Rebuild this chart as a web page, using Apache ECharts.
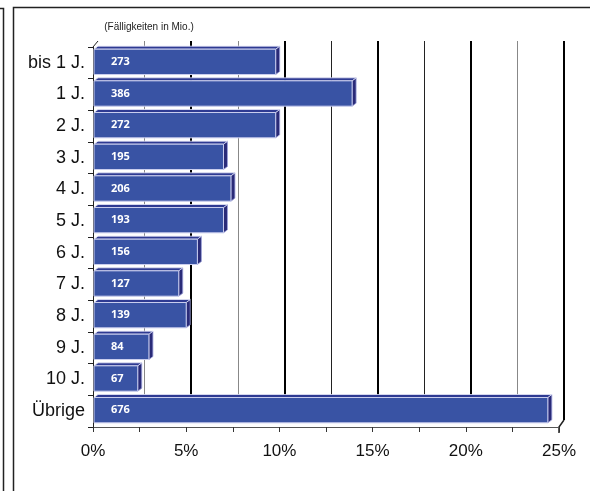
<!DOCTYPE html>
<html>
<head>
<meta charset="utf-8">
<script src="https://cdn.jsdelivr.net/npm/echarts@6/dist/echarts.min.js"></script>
<style>html,body{margin:0;padding:0;background:#fff;}#c{width:590px;height:491px;}</style>
</head>
<body>
<div id="c"></div>
<script>
const categories = ['bis 1 J.', '1 J.', '2 J.', '3 J.', '4 J.', '5 J.', '6 J.', '7 J.', '8 J.', '9 J.', '10 J.', 'Übrige'];
const amounts = [273, 386, 272, 195, 206, 193, 156, 127, 139, 84, 67, 676];
const shares = [9.8, 13.9, 9.8, 7.0, 7.4, 7.0, 5.6, 4.6, 5.0, 3.0, 2.4, 24.4];
const xTicks = [0, 5, 10, 15, 20, 25];
const title = '(Fälligkeiten in Mio.)';

const FONT = '"Liberation Sans", sans-serif';
const chart = echarts.init(document.getElementById('c'), null, {renderer: 'canvas'});

function renderBar(params, api) {
  const v = api.value(0), i = api.value(1), amt = api.value(2);
  const p0 = api.coord([0, i]);
  const p1 = api.coord([v, i]);
  const bh = api.size([0, 1])[1];
  const h = bh * 0.8;
  const y0 = p0[1] - h / 2 - 1;
  const x0 = p0[0] + 1;
  const x1 = p1[0];
  const dx = 4, dy = 3;
  return {
    type: 'group',
    children: [
      {type: 'polygon', shape: {points: [[x1, y0], [x1 + dx, y0 - dy], [x1 + dx, y0 + h - dy], [x1, y0 + h]]},
        style: {fill: '#2A2B78', stroke: '#9da2da', lineWidth: 0.8}},
      {type: 'polygon', shape: {points: [[x0, y0], [x0 + dx, y0 - dy], [x1 + dx, y0 - dy], [x1, y0]]},
        style: {fill: '#2E3A92', stroke: '#e4e6f7', lineWidth: 0.8}},
      {type: 'rect', shape: {x: x0, y: y0, width: x1 - x0, height: h},
        style: {fill: '#3953A4', stroke: '#c9cdee', lineWidth: 1}},
      {type: 'text', x: x0 + 17, y: y0 + h / 2,
        style: {text: String(amt), fill: '#ffffff', font: 'bold 11px "Open Sans", sans-serif', textVerticalAlign: 'middle', textAlign: 'left'}}
    ]
  };
}

const option = {
  animation: false,
  backgroundColor: '#ffffff',
  grid: [
    {left: 93, right: 31, top: 47, bottom: 64},
    {left: 98, right: 26, top: 41, bottom: 71}
  ],
  xAxis: [
    {gridIndex: 0, type: 'value', min: 0, max: 25, interval: 2.5,
      axisLine: {show: true, lineStyle: {color: '#555', width: 1}},
      axisTick: {show: true, length: 5, lineStyle: {color: '#333'}},
      splitLine: {show: false},
      axisLabel: {margin: 16, color: '#111', fontSize: 17, fontFamily: FONT,
        formatter: v => xTicks.indexOf(v) >= 0 ? v + '%' : ''}},
    {gridIndex: 1, type: 'value', min: 0, max: 25, interval: 2.5,
      axisLine: {show: false}, axisTick: {show: false}, axisLabel: {show: false},
      splitLine: {show: true, lineStyle: {color: ['transparent', '#888', '#000', '#888', '#000', '#222', '#000', '#222', '#000', '#888', '#000'], width: 1}}},
    {gridIndex: 1, type: 'value', min: 0, max: 25, interval: 5,
      axisLine: {show: false}, axisTick: {show: false}, axisLabel: {show: false},
      splitLine: {show: true, lineStyle: {color: ['transparent', '#000', '#000', '#000', '#000', '#000'], width: 2}}}
  ],
  yAxis: [
    {gridIndex: 0, type: 'category', data: categories, inverse: true,
      axisLine: {show: true, lineStyle: {color: '#222'}},
      axisTick: {show: true, length: 5, lineStyle: {color: '#222'}},
      axisLabel: {margin: 8, color: '#111', fontSize: 18, fontFamily: FONT}},
    {gridIndex: 1, type: 'value', show: false}
  ],
  series: [
    {type: 'custom', xAxisIndex: 0, yAxisIndex: 0, renderItem: renderBar,
      encode: {x: 0, y: 1},
      data: shares.map((s, i) => [s, i, amounts[i]]), z: 5}
  ],
  graphic: [
    {type: 'polyline', shape: {points: [[0, 8.5], [3.5, 8.5], [3.5, 491]]}, style: {stroke: '#222', lineWidth: 1.5, fill: null}},
    {type: 'rect', shape: {x: 13.5, y: 7.5, width: 700, height: 600}, style: {stroke: '#222', lineWidth: 1.5, fill: null}},
    {type: 'text', x: 149, y: 27, style: {text: title, font: '10px "Liberation Sans", sans-serif', fill: '#222', textAlign: 'center', textVerticalAlign: 'middle'}},
    {type: 'polyline', shape: {points: [[93, 47], [98, 41]]}, style: {stroke: '#222', lineWidth: 1}},
    {type: 'polyline', shape: {points: [[559, 433], [559, 427], [564, 420]]}, style: {stroke: '#222', lineWidth: 1.5, fill: null}}
  ]
};
chart.setOption(option);
</script>
</body>
</html>
